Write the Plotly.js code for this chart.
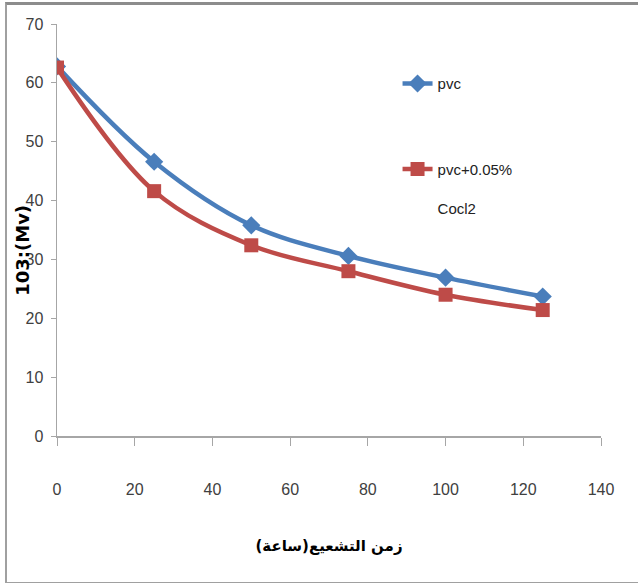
<!DOCTYPE html>
<html>
<head>
<meta charset="utf-8">
<script src="https://cdn.plot.ly/plotly-3.0.1.min.js"></script>
<style>
  html, body { margin: 0; padding: 0; background: #fff; }
  #wrap { position: relative; width: 638px; height: 583px; }
  #chart { width: 638px; height: 583px; }
  #frame {
    position: absolute; left: 5px; top: 2px; width: 640px; height: 577px;
    border-top: 3px solid #8c8c8c; border-left: 2px solid #a0a0a0; border-bottom: 2px solid #a0a0a0;
    pointer-events: none;
  }
</style>
</head>
<body>
<div id="wrap">
  <div id="chart"></div>
  <div id="frame"></div>
</div>
<script>
// Irradiation time (hours)
const hours = [0, 25, 50, 75, 100, 125];
// Viscosity-average molecular weight (x10^3)
const mvPvc = [62.8, 46.6, 35.8, 30.6, 26.9, 23.7];
const mvPvcCocl2 = [62.6, 41.6, 32.4, 28.0, 24.0, 21.4];

const seriesNames = ['pvc', 'pvc+0.05%<br> <br>Cocl2'];
const xTicks = [0, 20, 40, 60, 80, 100, 120, 140];
const yTicks = [0, 10, 20, 30, 40, 50, 60, 70];

const tickFont = { family: 'Liberation Sans Narrow, Liberation Sans, Arial', size: 16, color: '#404040' };

const traces = [
  {
    x: hours, y: mvPvc, name: seriesNames[0], type: 'scatter', mode: 'lines+markers',
    line: { color: '#4a7ebb', width: 4.5, shape: 'spline' },
    marker: { symbol: 'diamond', size: 14, color: '#4a7ebb' },
    legendgroup: 'a'
  },
  {
    x: hours, y: mvPvcCocl2, name: seriesNames[1], type: 'scatter', mode: 'lines+markers',
    line: { color: '#be4b48', width: 4.5, shape: 'spline' },
    marker: { symbol: 'square', size: 14, color: '#be4b48' },
    legendgroup: 'b'
  }
];

const layout = {
  width: 638, height: 583,
  margin: { l: 57, r: 37, t: 24, b: 147 },
  paper_bgcolor: '#ffffff', plot_bgcolor: '#ffffff',
  showlegend: true,
  legend: {
    x: 0.626, y: 0.895, xanchor: 'left', yanchor: 'top',
    traceorder: 'grouped', tracegroupgap: 63, valign: 'top',
    font: { family: 'Liberation Sans Narrow, Liberation Sans, Arial', size: 15, color: '#222' },
    bgcolor: 'rgba(0,0,0,0)'
  },
  xaxis: {
    range: [0, 140], tickvals: xTicks, ticktext: xTicks.map(String),
    showgrid: false, zeroline: false, showline: true, linecolor: '#a6a6a6', linewidth: 1.5,
    ticks: 'outside', ticklen: 8, tickcolor: '#a6a6a6', tickfont: tickFont,
    ticklabelstandoff: 30,
    title: { text: 'زمن التشعيع(ساعة)', font: { family: 'DejaVu Sans', size: 15, color: '#000', weight: 'bold' }, standoff: 44 }
  },
  yaxis: {
    range: [0, 70], tickvals: yTicks, ticktext: yTicks.map(String),
    showgrid: false, zeroline: false, showline: true, linecolor: '#a6a6a6', linewidth: 1.5,
    ticks: 'outside', ticklen: 5, tickcolor: '#a6a6a6', tickfont: tickFont,
    ticklabelstandoff: 4
  },
  annotations: [
    {
      text: '<b>103:(Mv)</b>', xref: 'paper', yref: 'paper', x: -0.064, y: 0.45,
      textangle: -90, showarrow: false, xanchor: 'center', yanchor: 'middle',
      font: { family: 'DejaVu Sans', size: 18, color: '#000' }
    }
  ]
};

Plotly.newPlot('chart', traces, layout, { displayModeBar: false, staticPlot: true });
</script>
</body>
</html>
